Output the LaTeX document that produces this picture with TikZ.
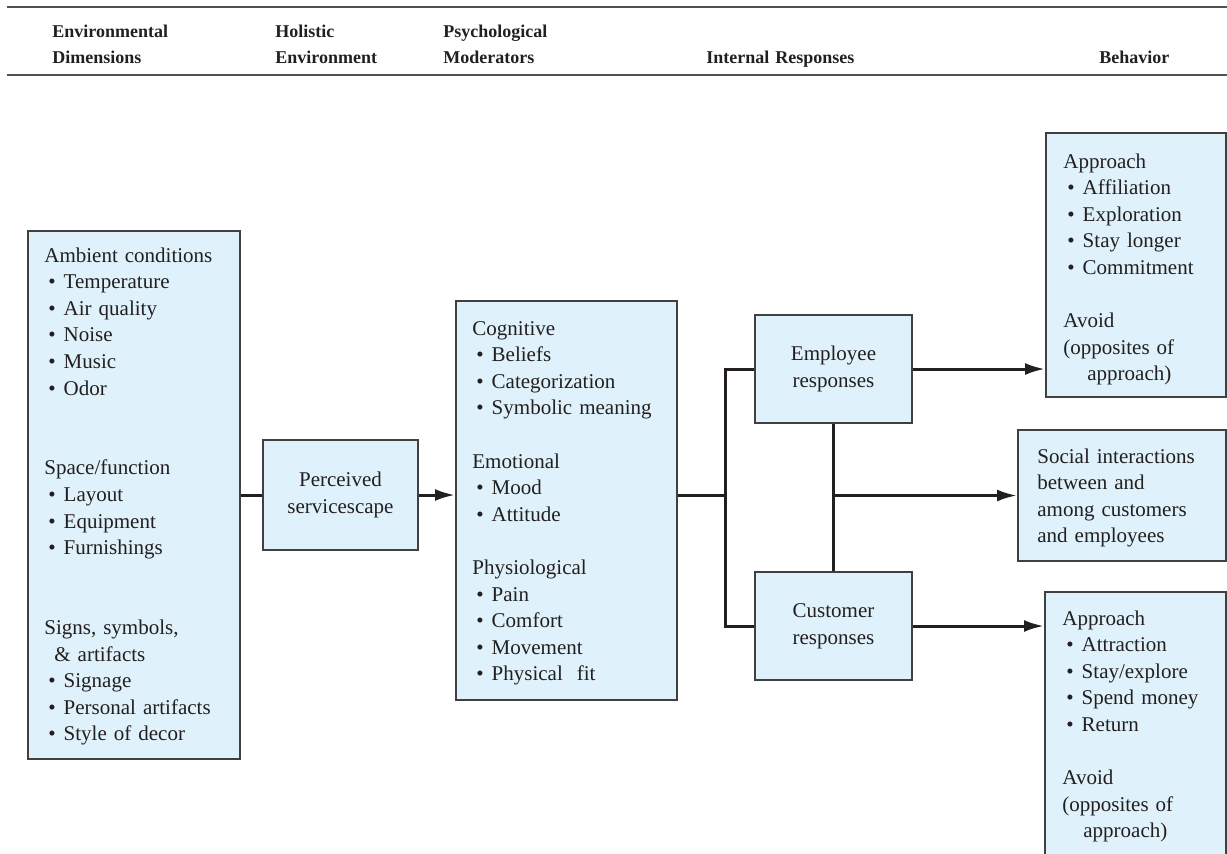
\documentclass[tikz,border=0pt]{standalone}
\usepackage{fontspec}
\setmainfont{Liberation Serif}
\usetikzlibrary{arrows.meta,fit}

\definecolor{panelfill}{RGB}{223,241,250}
\definecolor{panelline}{RGB}{64,64,64}
\definecolor{wirecol}{RGB}{35,31,32}
\definecolor{rulecol}{RGB}{80,80,80}
\definecolor{inkcol}{RGB}{35,31,32}

% bulleted entry inside a panel
\newcommand{\itm}[1]{\hspace*{2pt}\textbullet\hspace{4pt}#1}

\tikzset{
  panel/.style={draw=panelline, line width=1pt, fill=panelfill, inner sep=0pt},
  body/.style={font=\fontsize{10.5}{13.3}\selectfont, text=inkcol, align=left, inner sep=0pt, anchor=base west},
  centred/.style={font=\fontsize{10.5}{13.3}\selectfont, text=inkcol, align=center, inner sep=0pt},
  head/.style={font=\fontsize{9}{13}\selectfont\bfseries, text=inkcol, align=left, inner sep=0pt, anchor=base west},
  wire/.style={draw=wirecol, line width=1.5pt},
  arrowline/.style={wire, -{Latex[length=10pt,width=6pt]}},
  hrule/.style={draw=rulecol, line width=1pt},
}

\begin{document}
\begin{tikzpicture}[x=0.5pt, y=-0.5pt]
\useasboundingbox (0,0) rectangle (1227,853);
\clip (0,0) rectangle (1227,853);

% column headings between two rules
\draw[hrule] (7,7) -- (1227,7);
\draw[hrule] (7,75) -- (1227,75);
\node[head, text width=80pt] (hEnv) at (52,37) {Environmental\\Dimensions};
\node[head, text width=80pt] (hHol) at (275,37) {Holistic\\Environment};
\node[head, text width=80pt] (hPsy) at (443,37) {Psychological\\Moderators};
\node[head, text width=90pt] (hInt) at (706,63) {Internal Responses};
\node[head, text width=50pt] (hBeh) at (1099,63) {Behavior};

% panels
\node[panel, fit={(28,231) (240,759)}] (amb) {};
\node[panel, fit={(263,440) (418,550)}] (perc) {};
\node[panel, fit={(456,301) (677,700)}] (cog) {};
\node[panel, fit={(755,315) (912,423)}] (emp) {};
\node[panel, fit={(755,572) (912,680)}] (cust) {};
\node[panel, fit={(1046,133) (1226,397)}] (empbeh) {};
\node[panel, fit={(1018,430) (1226,561)}] (social) {};
\node[panel, fit={(1045,592) (1226,900)}] (custbeh) {};

% panel texts
\node[body, text width=100pt] (ambtext) at (44,262) {Ambient conditions\\
  \itm{Temperature}\\ \itm{Air quality}\\ \itm{Noise}\\ \itm{Music}\\ \itm{Odor}\\[26.6pt]
  Space/function\\ \itm{Layout}\\ \itm{Equipment}\\ \itm{Furnishings}\\[26.6pt]
  Signs, symbols,\\ \hspace*{5pt}\& artifacts\\ \itm{Signage}\\ \itm{Personal artifacts}\\ \itm{Style of decor}};

\node[centred] (perctext) at (perc.center) {Perceived\\servicescape};

\node[body, text width=100pt] (cogtext) at (472,335) {Cognitive\\
  \itm{Beliefs}\\ \itm{Categorization}\\ \itm{Symbolic meaning}\\[13.3pt]
  Emotional\\ \itm{Mood}\\ \itm{Attitude}\\[13.3pt]
  Physiological\\ \itm{Pain}\\ \itm{Comfort}\\ \itm{Movement}\\ \itm{Physical\ \ fit}};

\node[centred] (emptext) at (emp.center) {Employee\\responses};
\node[centred] (custtext) at (cust.center) {Customer\\responses};

\node[body, text width=80pt] (empbehtext) at (1063,168) {Approach\\
  \itm{Affiliation}\\ \itm{Exploration}\\ \itm{Stay longer}\\ \itm{Commitment}\\[13.3pt]
  Avoid\\ (opposites of\\ \hspace*{12pt}approach)};

\node[body, text width=95pt] (socialtext) at (1037,463) {Social interactions\\
  between and\\ among customers\\ and employees};

\node[body, text width=80pt] (custbehtext) at (1062,625) {Approach\\
  \itm{Attraction}\\ \itm{Stay/explore}\\ \itm{Spend money}\\ \itm{Return}\\[13.3pt]
  Avoid\\ (opposites of\\ \hspace*{10.5pt}approach)};

% connectors
\coordinate (fork) at (725,495);
\draw[wire] (amb) -- (perc);
\draw[arrowline] (perc.east) -- (cog.west |- perc.east);
\draw[wire] (cog.east |- fork) -- (fork);
\draw[wire] (emp.west) -| (fork) |- (cust.west);
\draw[wire] (emp.south) -- (cust.north);
\coordinate (mid) at (emp.south |- social.west);
\draw[arrowline] (mid) -- (social.west);
\draw[arrowline] (emp.east) -- (empbeh.west |- emp.east);
\draw[arrowline] (cust.east) -- (custbeh.west |- cust.east);
\end{tikzpicture}
\end{document}
